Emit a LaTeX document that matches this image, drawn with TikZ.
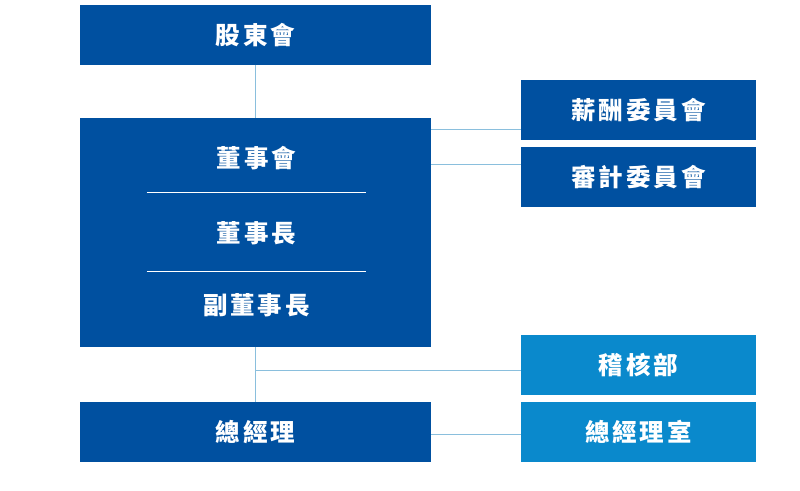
\documentclass[tikz,border=0pt]{standalone}
\usepackage{fontspec}
\newfontfamily\cjk{Noto Sans CJK TC}[LetterSpace=12]
\definecolor{boarddark}{HTML}{0050A0}
\definecolor{unitlight}{HTML}{0A89CC}
\definecolor{linkblue}{HTML}{8ABFDD}
\begin{document}
\begin{tikzpicture}[x=1pt,y=-1pt,
  box/.style={fill=boarddark,text=white,inner sep=0pt,minimum width=351pt,minimum height=59.5pt,font=\cjk\bfseries\fontsize{24.5}{24.5}\selectfont},
  unit/.style={box,minimum width=235pt},
  staff/.style={unit,fill=unitlight},
  title/.style={text=white,inner sep=0pt,font=\cjk\bfseries\fontsize{24.5}{24.5}\selectfont},
  link/.style={linkblue,line width=1pt}]
\useasboundingbox (0,0) rectangle (800,490);
% left column
\node[box] (gudong) at (255.5,34.75) {股東會};
\node[box,minimum height=228.5pt] (board) at (255.5,232.5) {};
\node[title] (dongshihui) at (256.5,158.5) {董事會};
\node[title] (chairman) at (256.5,233.5) {董事長};
\node[title] (vicechair) at (256.5,305) {副董事長};
\draw[white,line width=0.8pt] (146.5,192.3) -- (365.5,192.3);
\draw[white,line width=0.8pt] (146.5,271.7) -- (365.5,271.7);
\node[box] (zongjingli) at (255.5,431.75) {總經理};
% right column
\node[unit] (xinchou) at (638.5,109.85) {薪酬委員會};
\node[unit] (shenji) at (638.5,177) {審計委員會};
\node[staff] (jihe) at (638.5,364.75) {稽核部};
\node[staff] (zongshi) at (638.5,431.75) {總經理室};
% connectors
\draw[link] (gudong.south) -- (board.north);
\draw[link] (board.east |- 0,129.5) -- (xinchou.west |- 0,129.5);
\draw[link] (board.east |- 0,164.5) -- (shenji.west |- 0,164.5);
\draw[link] (board.south) -- (zongjingli.north);
\draw[link] (board.south |- 0,370.3) -- (jihe.west |- 0,370.3);
\draw[link] (zongjingli.east |- 0,434) -- (zongshi.west |- 0,434);
\end{tikzpicture}
\end{document}
